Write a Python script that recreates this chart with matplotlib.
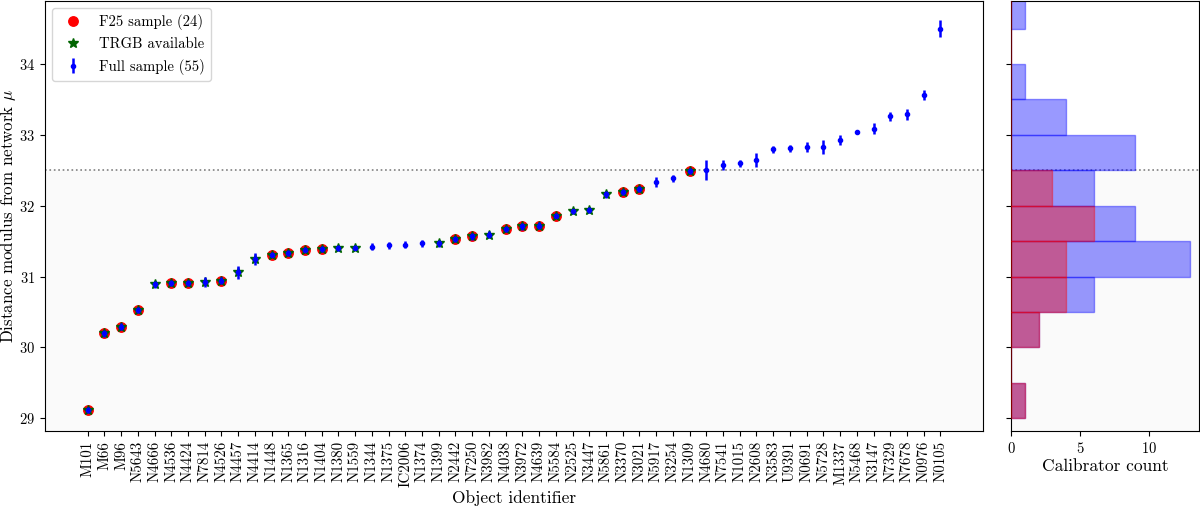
import numpy as np
import matplotlib
matplotlib.use("Agg")
import matplotlib.pyplot as plt

plt.rcParams['font.family'] = ['cmr10', 'DejaVu Serif']
plt.rcParams['mathtext.fontset'] = 'cm'
plt.rcParams['axes.formatter.use_mathtext'] = True

names = ["M101", "M66", "M96", "N5643", "N4666", "N4536", "N4424", "N7814", "N4526", "N4457",
         "N4414", "N1448", "N1365", "N1316", "N1404", "N1380", "N1559", "N1344", "N1375", "IC2006",
         "N1374", "N1399", "N2442", "N7250", "N3982", "N4038", "N3972", "N4639", "N5584", "N2525",
         "N3447", "N5861", "N3370", "N3021", "N5917", "N3254", "N1309", "N4680", "N7541", "N1015",
         "N2608", "N3583", "U9391", "N0691", "N5728", "M1337", "N5468", "N3147", "N7329", "N7678",
         "N0976", "N0105"]
mu = [29.12, 30.20, 30.29, 30.53, 30.89, 30.91, 30.91, 30.92, 30.94, 31.06,
      31.25, 31.31, 31.33, 31.38, 31.39, 31.40, 31.41, 31.42, 31.44, 31.45,
      31.47, 31.47, 31.53, 31.57, 31.59, 31.67, 31.71, 31.72, 31.86, 31.92,
      31.94, 32.16, 32.19, 32.24, 32.33, 32.39, 32.49, 32.51, 32.57, 32.60,
      32.65, 32.80, 32.81, 32.83, 32.83, 32.93, 33.04, 33.09, 33.26, 33.29,
      33.56, 34.50]
mu_err = [0.04, 0.05, 0.05, 0.04, 0.05, 0.04, 0.04, 0.07, 0.05, 0.09,
          0.08, 0.04, 0.04, 0.04, 0.04, 0.04, 0.04, 0.05, 0.05, 0.05,
          0.05, 0.05, 0.04, 0.05, 0.05, 0.04, 0.05, 0.05, 0.04, 0.04,
          0.04, 0.05, 0.04, 0.04, 0.07, 0.05, 0.04, 0.14, 0.07, 0.05,
          0.10, 0.05, 0.05, 0.07, 0.10, 0.07, 0.01, 0.08, 0.06, 0.08,
          0.07, 0.12]
f25 = ["M101", "M66", "M96", "N5643", "N4536", "N4424", "N4526", "N1448", "N1365", "N1316",
       "N1404", "N2442", "N7250", "N4038", "N3972", "N4639", "N5584", "N3370", "N3021", "N1309"]
trgb_extra = ["N4666", "N7814", "N4457", "N4414", "N1380", "N1559", "N1399", "N3982", "N2525",
              "N3447", "N5861"]
cut = 32.5
bins = np.arange(29.0, 35.01, 0.5)

x = np.arange(len(names))
mu = np.array(mu)
mu_err = np.array(mu_err)
is_f25 = np.array([n in f25 for n in names])
is_trgb = np.array([(n in f25) or (n in trgb_extra) for n in names])

fig = plt.figure(figsize=(12, 5.08), dpi=100)
ax = fig.add_axes([0.0375, 0.1516, 0.7817, 0.8464])
axh = fig.add_axes([0.8425, 0.1516, 0.1567, 0.8464], sharey=ax)

ylo, yhi = 28.82, 34.89
for a in (ax, axh):
    a.axhspan(ylo, cut, color='0.98', zorder=0, lw=0)
    a.axhline(cut, ls=':', color='gray', lw=1.2, zorder=1)

ax.plot(x[is_f25], mu[is_f25], 'o', color='red', ms=6.8, ls='none',
        label='F25 sample (24)', zorder=3)
ax.plot(x[is_trgb], mu[is_trgb], '*', color='darkgreen', ms=7, ls='none',
        label='TRGB available', zorder=4)
ax.errorbar(x, mu, yerr=mu_err, fmt='o', color='blue', ms=3, elinewidth=1.8,
            capsize=0, label='Full sample (55)', zorder=5)

ax.set_xticks(x)
ax.set_xticklabels(names, rotation=90, fontsize=10.8)
ax.tick_params(axis='y', labelsize=10.5)
ax.set_xlim(-2.55, len(names) - 1 + 2.55)
ax.set_ylim(ylo, yhi)
ax.set_yticks([29, 30, 31, 32, 33, 34])
ax.set_xlabel('Object identifier', fontsize=12.5, labelpad=2)
ax.set_ylabel(r'Distance modulus from network $\mu$', fontsize=12.2, labelpad=1)
ax.legend(loc='upper left', fontsize=10.6)

axh.hist(mu, bins=bins, orientation='horizontal', color='blue', alpha=0.4,
         edgecolor='blue', lw=1, zorder=2)
axh.hist(mu[is_f25], bins=bins, orientation='horizontal', color='red', alpha=0.4,
         edgecolor='red', lw=1, zorder=3)
axh.set_xlabel('Calibrator count', fontsize=12.5, labelpad=2)
axh.set_xticks([0, 5, 10])
axh.tick_params(axis='x', labelsize=10.5)
axh.tick_params(axis='y', labelleft=False)
axh.set_xlim(0, 13.65)
axh.set_ylim(ylo, yhi)

fig.savefig('out.png', dpi=100)
